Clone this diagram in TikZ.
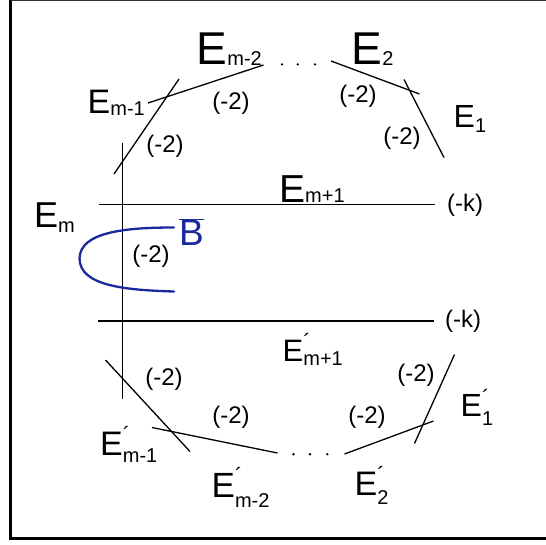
\documentclass[tikz,border=0pt]{standalone}
\usepackage{fontspec}
\setmainfont{Liberation Sans}
\definecolor{inkblue}{RGB}{28,40,158}
\newcommand\Elab[4]{{\fontsize{#1}{#1}\selectfont E}#2\raisebox{-#3pt}{\fontsize{20}{20}\selectfont #4}}
\newcommand\Primemark[1]{\rlap{\raisebox{#1pt}{\fontsize{22}{22}\selectfont ´}}}
\begin{document}
\begin{tikzpicture}[x=1pt,y=-1pt,
  curve/.style={line width=1.3pt,black},
  elab/.style={anchor=base west,inner sep=0pt},
  num/.style={inner sep=0pt,font=\fontsize{24}{24}\selectfont}]
\useasboundingbox (0,0) rectangle (546,544);
% frame
\draw[line width=3.5pt] (10.5,0) -- (10.5,538.5) -- (546,538.5);
\draw[line width=1.5pt,black!80] (10.5,0.7) -- (546,0.7);
% curves
\coordinate (vA) at (122.5,143); \coordinate (vB) at (122.5,399);
\draw[curve] (vA) -- (vB);
\coordinate (a1) at (114,174); \coordinate (a2) at (179,79);
\draw[curve] (a1) -- (a2);
\coordinate (b1) at (148,103); \coordinate (b2) at (263.5,65);
\draw[curve] (b1) -- (b2);
\coordinate (c1) at (331,61); \coordinate (c2) at (419.5,94);
\draw[curve] (c1) -- (c2);
\coordinate (d1) at (404,79.5); \coordinate (d2) at (444,157.5);
\draw[curve] (d1) -- (d2);
\coordinate (h1) at (99,204.4); \coordinate (h2) at (435,204.4);
\draw[curve] (h1) -- (h2);
\coordinate (g1) at (97.5,321); \coordinate (g2) at (433.5,321);
\draw[curve] (g1) -- (g2);
\coordinate (p1) at (105.5,360); \coordinate (p2) at (190,451.5);
\draw[curve] (p1) -- (p2);
\coordinate (q1) at (152,427.5); \coordinate (q2) at (277.5,453);
\draw[curve] (q1) -- (q2);
\coordinate (r1) at (344.5,454); \coordinate (r2) at (433.5,421);
\draw[curve] (r1) -- (r2);
\coordinate (s1) at (414.5,443.5); \coordinate (s2) at (454.5,354.5);
\draw[curve] (s1) -- (s2);
% dots
\foreach \x in {282,297.7,315}{\fill (\x,64.4) circle (1.3pt);}
\foreach \x in {293.5,310,327.3}{\fill (\x,454.2) circle (1.3pt);}
% blue curve
\coordinate (u1) at (174,227.5); \coordinate (u2) at (79.5,258.5); \coordinate (u3) at (174,291.5);
\draw[inkblue,line width=2.3pt,line cap=round] (u1) .. controls (125,227.5) and (80,232) .. (u2) .. controls (80,286) and (125,290) .. (u3);
\node[inner sep=0pt,anchor=base west,text=inkblue] (Bbar) at (179,245.7) {\fontsize{37}{37}\selectfont$\overline{\hbox{B}}$};
% labels upper
\node[elab] (Em2) at (196.5,64) {\Elab{46}{}{1}{m-2}};
\node[elab] (E2) at (351.5,64) {\Elab{46}{}{1}{2}};
\node[elab] (Em1) at (87.5,113) {\Elab{34}{}{2}{m-1}};
\node[elab] (E1) at (453.5,127) {\Elab{32}{}{5}{1}};
\node[elab] (Emp1) at (279,202) {\Elab{39}{}{0}{m+1}};
\node[elab] (Em) at (34,227) {\Elab{36}{}{5}{m}};
% labels lower
\node[elab] (Fmp1) at (282.5,361) {\Elab{31}{\Primemark{12}}{4}{m+1}};
\node[elab] (Fm1) at (100,455) {\Elab{34}{\Primemark{13}}{7}{m-1}};
\node[elab] (Fm2) at (211.5,497) {\Elab{35}{\Primemark{14}}{10}{m-2}};
\node[elab] (F2) at (354.5,495) {\Elab{34}{\Primemark{13}}{9}{2}};
\node[elab] (F1) at (460.5,416.6) {\Elab{32}{\Primemark{11}}{9}{1}};
% numbers
\node[num] (n1) at (231,103) {(-2)};
\node[num] (n2) at (358,96) {(-2)};
\node[num] (n3) at (402,138) {(-2)};
\node[num] (n4) at (165,146) {(-2)};
\node[num] (n5) at (151,256) {(-2)};
\node[num] (n6) at (164,379) {(-2)};
\node[num] (n7) at (231,417) {(-2)};
\node[num] (n8) at (367,417) {(-2)};
\node[num] (n9) at (416,375) {(-2)};
\node[num] (k1) at (465,205) {(-k)};
\node[num] (k2) at (463,321) {(-k)};
\end{tikzpicture}
\end{document}
